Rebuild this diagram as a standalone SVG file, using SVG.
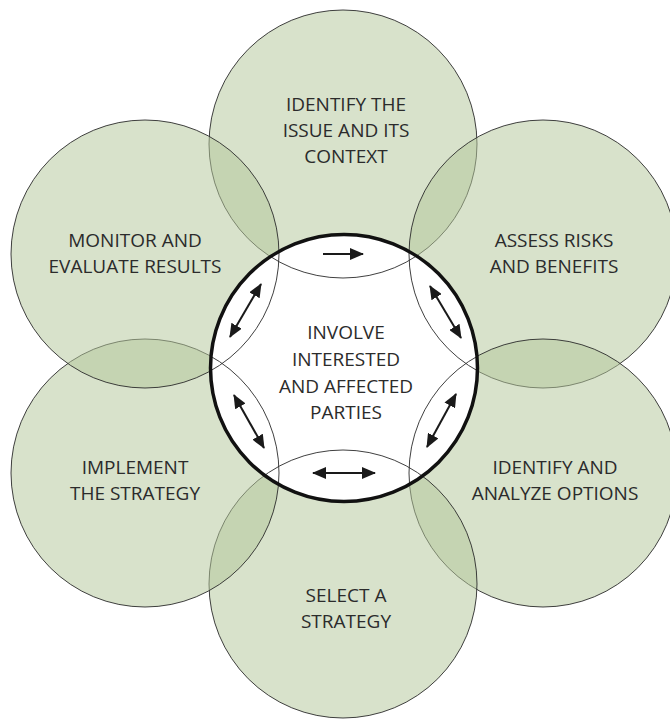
<svg xmlns="http://www.w3.org/2000/svg" width="670" height="719" viewBox="0 0 670 719">
<style>
.fill{fill:rgb(181,199,156);fill-opacity:0.52;stroke:none}
.ring{fill:none;stroke:#2a2a2a;stroke-width:0.9}
.hub{fill:none;stroke:#111;stroke-width:3.5}
text{font-family:"Open Sans","Noto Sans",sans-serif;font-size:19px;fill:#2b2b2b;text-anchor:middle}
.arr{stroke:#1a1a1a;stroke-width:2;fill:none}
</style>
<defs>
<mask id="hole" maskUnits="userSpaceOnUse" x="0" y="0" width="670" height="719">
<rect x="0" y="0" width="670" height="719" fill="#fff"/>
<circle cx="344" cy="368" r="133.5" fill="#000"/>
</mask>
<marker id="head" viewBox="0 0 14 12" refX="13" refY="6" markerWidth="14" markerHeight="12" markerUnits="userSpaceOnUse" orient="auto-start-reverse">
<path d="M0,0 L14,6 L0,12 Z" fill="#1a1a1a"/>
</marker>
</defs>
<rect x="0" y="0" width="670" height="719" fill="#fff"/>
<g id="node-identify-issue">
<circle class="fill" cx="343" cy="144" r="134" mask="url(#hole)"/>
<circle class="ring" cx="343" cy="144" r="134"/>
<text x="346" y="111">IDENTIFY THE</text>
<text x="346" y="137">ISSUE AND ITS</text>
<text x="346" y="163">CONTEXT</text>
</g>
<g id="node-assess-risks">
<circle class="fill" cx="543" cy="254" r="134" mask="url(#hole)"/>
<circle class="ring" cx="543" cy="254" r="134"/>
<text x="554" y="247">ASSESS RISKS</text>
<text x="554" y="273">AND BENEFITS</text>
</g>
<g id="node-identify-options">
<circle class="fill" cx="543" cy="473" r="134" mask="url(#hole)"/>
<circle class="ring" cx="543" cy="473" r="134"/>
<text x="555" y="474">IDENTIFY AND</text>
<text x="555" y="500">ANALYZE OPTIONS</text>
</g>
<g id="node-select-strategy">
<circle class="fill" cx="343" cy="584" r="134" mask="url(#hole)"/>
<circle class="ring" cx="343" cy="584" r="134"/>
<text x="346" y="602">SELECT A</text>
<text x="346" y="628">STRATEGY</text>
</g>
<g id="node-implement">
<circle class="fill" cx="145" cy="473" r="134" mask="url(#hole)"/>
<circle class="ring" cx="145" cy="473" r="134"/>
<text x="135" y="474">IMPLEMENT</text>
<text x="135" y="500">THE STRATEGY</text>
</g>
<g id="node-monitor">
<circle class="fill" cx="145" cy="254" r="134" mask="url(#hole)"/>
<circle class="ring" cx="145" cy="254" r="134"/>
<text x="135" y="247">MONITOR AND</text>
<text x="135" y="273">EVALUATE RESULTS</text>
</g>
<g id="node-involve">
<circle class="hub" cx="344" cy="368" r="133.5"/>
<text x="346" y="339">INVOLVE</text>
<text x="346" y="366">INTERESTED</text>
<text x="346" y="393">AND AFFECTED</text>
<text x="346" y="419">PARTIES</text>
</g>
<g id="connectors">
<line class="arr" x1="323" y1="254" x2="363" y2="254" marker-end="url(#head)"/>
<line class="arr" x1="430" y1="286" x2="461" y2="338" marker-start="url(#head)" marker-end="url(#head)"/>
<line class="arr" x1="456" y1="394" x2="427" y2="447" marker-start="url(#head)" marker-end="url(#head)"/>
<line class="arr" x1="313" y1="473" x2="375" y2="473" marker-start="url(#head)" marker-end="url(#head)"/>
<line class="arr" x1="234" y1="395" x2="264" y2="448" marker-start="url(#head)" marker-end="url(#head)"/>
<line class="arr" x1="261" y1="284" x2="230" y2="337" marker-start="url(#head)" marker-end="url(#head)"/>
</g>
</svg>
